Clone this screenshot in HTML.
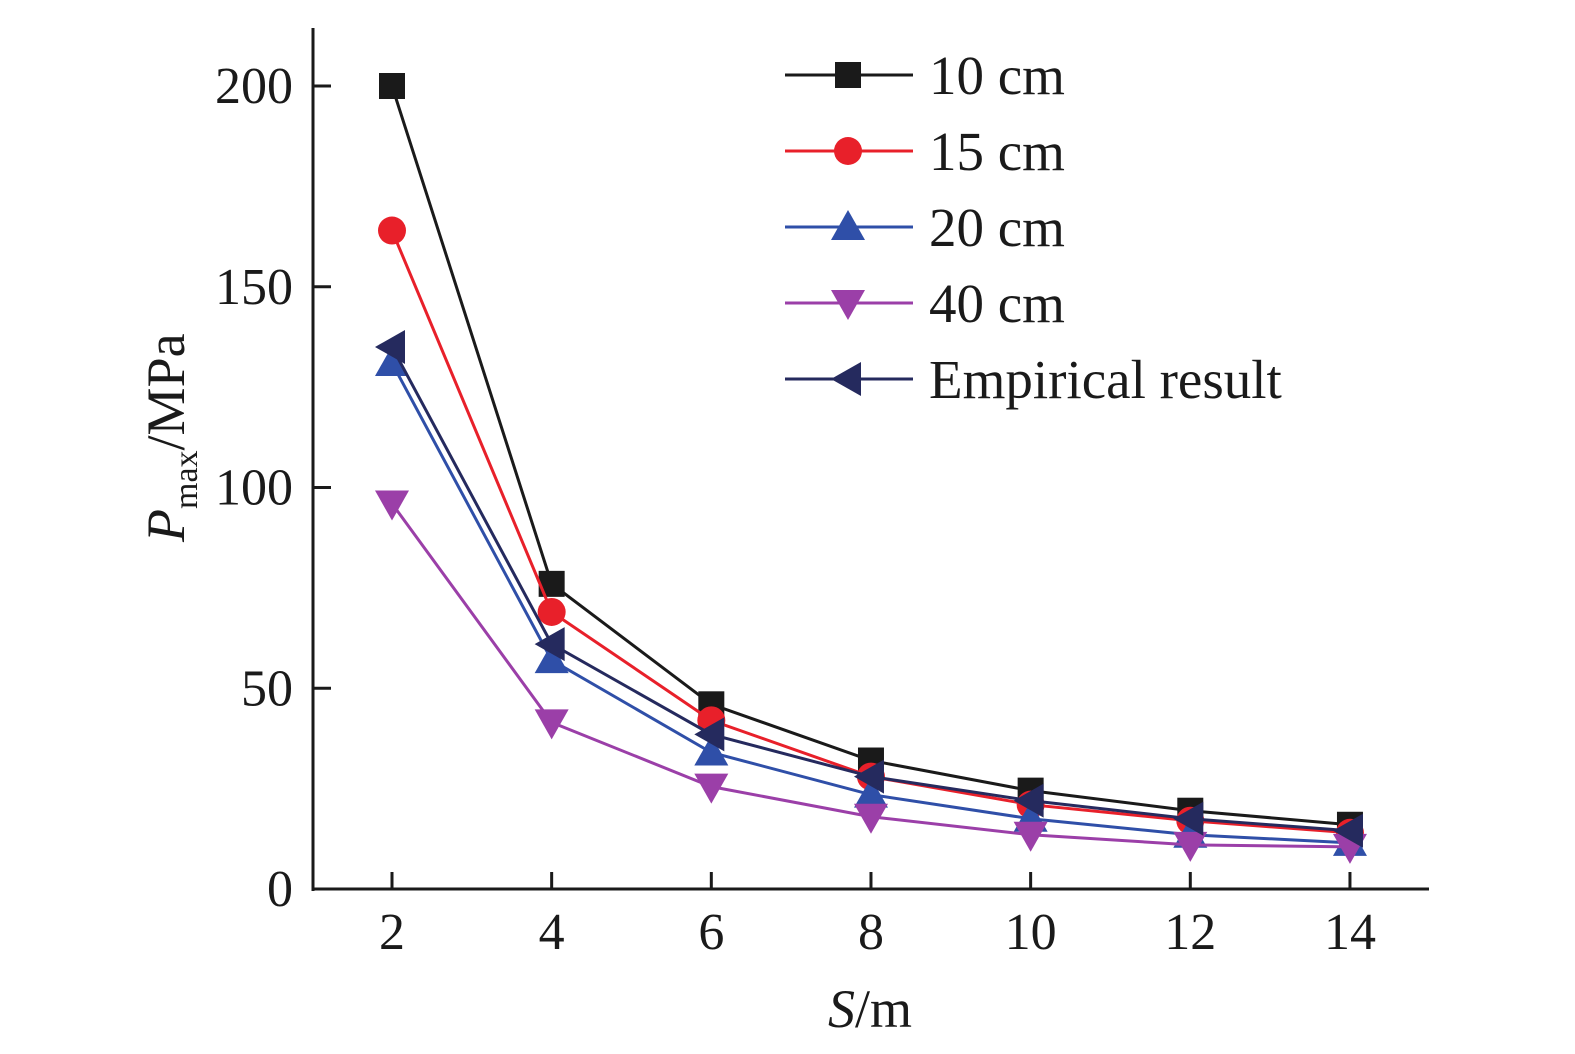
<!DOCTYPE html>
<html><head><meta charset="utf-8"><style>
body{margin:0;background:#fff}
svg text{font-family:"Liberation Serif",serif;fill:#1a1a1a}
</style></head><body>
<svg id="chart" width="1575" height="1049" viewBox="0 0 1575 1049">
<g id="axes"></g><g id="series"></g><g id="legend"></g>
</svg>
<script>
const xCats=[2,4,6,8,10,12,14];
const yTicks=[0,50,100,150,200];
const s10=[200,76,46,32,24.5,19.5,16];
const s15=[164,69,42,28,21,17,14];
const s20=[131,57,34,23.5,17.5,13.5,11.5];
const s40=[96,41.5,25.5,18,13.5,11,10.5];
const sEmp=[135,61,38.5,28,22,17.5,14.5];
const names=["10 cm","15 cm","20 cm","40 cm","Empirical result"];
const NS="http://www.w3.org/2000/svg";
const X0=313,Y0=889,Y1=28,X1=1429;
const xs=v=>392+(v-2)*79.83;
const ys=v=>889-v*4.015;
function mk(tag,attrs,parent){const e=document.createElementNS(NS,tag);for(const k in attrs)e.setAttribute(k,attrs[k]);parent.appendChild(e);return e;}
const axes=document.getElementById('axes');
const ya=mk('line',{x1:X0,y1:Y1,x2:X0,y2:Y0+2,stroke:'#1a1a1a','stroke-width':3},axes);


const xa=mk('line',{x1:X0-1,y1:Y0,x2:X1,y2:Y0,stroke:'#1a1a1a','stroke-width':3},axes);


yTicks.forEach(t=>{
 mk('line',{x1:X0,y1:ys(t),x2:X0+18,y2:ys(t),stroke:'#1a1a1a','stroke-width':3},axes);
 const tx=mk('text',{x:X0-20,y:ys(t)+17,'text-anchor':'end','font-size':52},axes);tx.textContent=t;
 
 
});
xCats.forEach(c=>{
 mk('line',{x1:xs(c),y1:Y0,x2:xs(c),y2:Y0-17,stroke:'#1a1a1a','stroke-width':3},axes);
 const tx=mk('text',{x:xs(c),y:949,'text-anchor':'middle','font-size':52},axes);tx.textContent=c;
 
 
});
const xt=mk('text',{x:870,y:1027,'text-anchor':'middle','font-size':54},axes);
xt.innerHTML='<tspan font-style="italic">S</tspan>/m';


const yt=mk('text',{x:0,y:0,'font-size':54,transform:'translate(184,542) rotate(-90)'},axes);
yt.innerHTML='<tspan font-style="italic">P</tspan><tspan font-size="34" dy="13">max</tspan><tspan dy="-13">/MPa</tspan>';


function marker(type,x,y,color,g){
 if(type==='sq')return mk('rect',{x:x-13,y:y-13,width:26,height:26,fill:color},g);
 if(type==='ci')return mk('circle',{cx:x,cy:y,r:14,fill:color},g);
 if(type==='up')return mk('polygon',{points:`${x},${y-17} ${x-17},${y+13} ${x+17},${y+13}`,fill:color},g);
 if(type==='dn')return mk('polygon',{points:`${x},${y+17} ${x-17},${y-13} ${x+17},${y-13}`,fill:color},g);
 return mk('polygon',{points:`${x-17},${y} ${x+13},${y-17} ${x+13},${y+17}`,fill:color},g);
}
const all=[s10,s15,s20,s40,sEmp];
const cols=['#1a1a1a','#e8202a','#2f4fa8','#9b3fa8','#252a5e'];
const types=['sq','ci','up','dn','lt'];
const keys=['10cm','15cm','20cm','40cm','empirical'];
const sg=document.getElementById('series');
all.forEach((d,i)=>{
 const g=mk('g',{},sg);
 
 
 const p=mk('polyline',{points:d.map((v,j)=>xs(xCats[j])+','+ys(v)).join(' '),fill:'none',stroke:cols[i],'stroke-width':3},g);
 
 
 d.forEach((v,j)=>{const m=marker(types[i],xs(xCats[j]),ys(v),cols[i],g);
  
  });
});
const lg=document.getElementById('legend');


names.forEach((n,i)=>{
 const y=75+i*76;
 const g=mk('g',{},lg);
 
 
 mk('line',{x1:785,y1:y,x2:913,y2:y,stroke:cols[i],'stroke-width':3},g);
 marker(types[i],848,y,cols[i],g);
 const t=mk('text',{x:929,y:y+19,'font-size':55},g);t.textContent=n;
});
</script>
</body></html>
